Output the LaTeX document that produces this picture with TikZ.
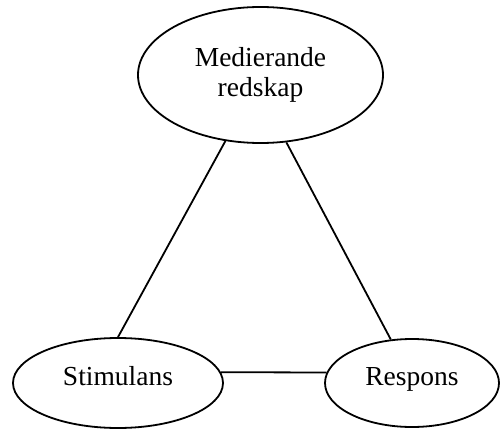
\documentclass[tikz,border=0pt]{standalone}
\usepackage{fontspec}
\setmainfont{Liberation Serif}
\usepackage{tikz}
\usetikzlibrary{shapes}

\tikzset{
  oval/.style={ellipse, draw, line width=1.8pt, inner sep=0pt, align=center},
  link/.style={line width=1.8pt}
}

\begin{document}
\begin{tikzpicture}[x=1pt,y=1pt,font=\fontsize{27.5}{30}\selectfont]
      \useasboundingbox (0,0) rectangle (500,429);
      \node[oval, minimum width=245pt, minimum height=136pt] (redskap) at (260.5,354) {Medierande\\redskap};
      \node[oval, minimum width=210pt, minimum height=90pt, text depth=14pt] (stimulans) at (118,46) {Stimulans};
      \node[oval, minimum width=174pt, minimum height=88pt, text depth=14pt] (respons) at (412,46) {Respons};
      \draw[link] (redskap.242) -- (stimulans.north);
      \draw[link] (redskap.291) -- (respons.116);
      \draw[link] (stimulans.6) -- (respons.173);
   \end{tikzpicture}
\end{document}
